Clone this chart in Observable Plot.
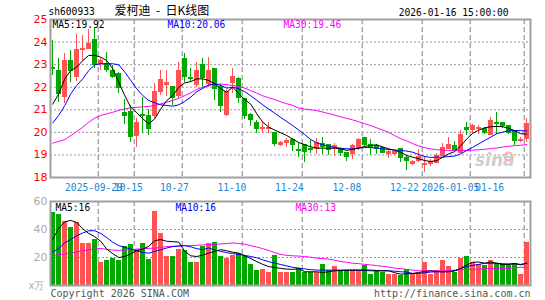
<!DOCTYPE html>
<html><head><meta charset="utf-8">
<script src="https://cdn.jsdelivr.net/npm/d3@7"></script>
<script src="https://cdn.jsdelivr.net/npm/@observablehq/plot@0.6"></script>
<style>
body{margin:0;background:#fff;}
#wrap{position:relative;width:545px;height:300px;overflow:hidden;background:#fff}
#wrap svg{position:absolute;left:0;}
</style></head><body><div id="wrap"></div>
<script>
const code = "sh600933";
const titleName = "爱柯迪";
const titleKind = "日K线图";
const stamp = "2026-01-16 15:00:00";

const dates = [
"2025-09-17","2025-09-18","2025-09-19","2025-09-22","2025-09-23","2025-09-24","2025-09-25","2025-09-26","2025-09-29","2025-09-30",
"2025-10-09","2025-10-10","2025-10-13","2025-10-14","2025-10-15","2025-10-16","2025-10-17","2025-10-20","2025-10-21","2025-10-22",
"2025-10-23","2025-10-24","2025-10-27","2025-10-28","2025-10-29","2025-10-30","2025-10-31","2025-11-03","2025-11-04","2025-11-05",
"2025-11-06","2025-11-07","2025-11-10","2025-11-11","2025-11-12","2025-11-13","2025-11-14","2025-11-17","2025-11-18","2025-11-19",
"2025-11-20","2025-11-21","2025-11-24","2025-11-25","2025-11-26","2025-11-27","2025-11-28","2025-12-01","2025-12-02","2025-12-03",
"2025-12-04","2025-12-05","2025-12-08","2025-12-09","2025-12-10","2025-12-11","2025-12-12","2025-12-15","2025-12-16","2025-12-17",
"2025-12-18","2025-12-19","2025-12-22","2025-12-23","2025-12-24","2025-12-25","2025-12-26","2025-12-29","2025-12-30","2025-12-31",
"2026-01-05","2026-01-06","2026-01-07","2026-01-08","2026-01-09","2026-01-12","2026-01-13","2026-01-14","2026-01-15","2026-01-16"];

const open = [22.86,22.70,21.56,23.18,22.44,23.63,23.68,24.07,23.05,23.04,
22.71,22.57,20.85,20.89,19.84,20.78,20.72,20.72,21.81,22.10,
22.03,21.62,23.26,22.42,22.10,23.00,22.15,22.80,22.00,20.79,
22.20,22.37,21.46,20.79,20.41,20.14,20.14,19.97,19.44,19.55,
19.64,19.22,19.42,19.26,19.27,19.49,19.42,19.30,19.27,19.08,
19.05,19.32,19.76,19.46,19.40,19.30,19.03,19.05,19.27,18.86,
18.58,18.72,18.54,18.58,18.65,18.97,19.27,19.40,19.10,20.18,
20.12,20.14,20.14,19.90,20.41,20.41,20.26,20.04,19.62,19.71];
const high = [24.05,23.26,23.48,23.63,24.35,24.30,24.55,24.60,23.26,23.55,
22.96,22.67,21.45,21.20,20.60,21.56,21.00,22.15,22.74,22.74,
22.05,23.11,23.48,22.84,23.10,23.26,23.33,22.82,22.10,21.90,
22.84,22.45,21.50,20.85,20.53,20.48,20.45,20.00,19.60,19.75,
19.71,19.49,19.45,19.64,19.71,19.79,19.47,19.50,19.30,19.10,
19.45,19.71,19.78,19.67,19.45,19.38,19.22,19.18,19.30,18.98,
18.75,19.23,18.95,18.78,19.05,19.50,19.76,19.60,20.08,20.44,
20.35,20.30,20.20,20.64,20.88,20.45,20.30,20.06,19.78,20.60];
const low = [22.50,21.34,21.27,22.22,22.25,23.15,23.65,22.85,22.74,22.65,
22.37,21.74,20.35,19.56,19.34,19.95,19.86,20.60,21.63,21.60,
21.20,21.50,22.20,22.20,22.00,22.00,22.00,21.40,20.88,20.70,
21.70,21.30,20.57,20.24,19.96,19.96,19.95,19.37,19.38,19.34,
19.15,18.90,18.68,19.05,19.00,19.00,18.97,18.95,18.94,18.71,
18.80,19.20,19.37,18.97,19.00,19.05,18.82,18.98,18.68,18.32,
18.54,18.68,18.20,18.50,18.60,18.92,19.24,19.18,19.08,19.86,
19.95,19.90,19.90,19.88,19.91,20.15,19.90,19.43,19.55,19.56];
const close = [22.82,21.71,23.15,22.74,23.63,23.68,23.93,22.99,23.15,22.78,
22.47,21.97,20.72,19.80,20.43,20.72,20.16,21.81,22.30,22.20,
21.53,22.74,22.45,22.37,22.72,22.40,22.74,21.93,21.18,21.78,
22.44,21.51,20.74,20.53,20.16,20.18,20.18,19.50,19.55,19.60,
19.42,19.19,19.12,19.23,19.54,19.36,19.23,19.39,19.09,18.92,
19.38,19.68,19.42,19.32,19.25,19.08,19.15,19.12,18.86,18.74,
18.68,18.93,18.58,18.70,18.97,19.30,19.42,19.24,19.90,20.12,
20.30,20.18,19.96,20.49,20.36,20.26,19.95,19.61,19.65,20.35];

const ma5 = [21.25,21.71,22.37,22.74,22.89,23.18,23.41,23.41,23.33,23.18,
22.82,22.22,21.63,21.11,20.87,20.60,20.38,20.60,21.04,21.41,
21.63,22.00,22.19,22.25,22.37,22.37,22.30,22.15,21.93,21.78,
22.00,21.71,21.45,21.25,20.82,20.45,20.23,20.10,19.98,19.86,
19.70,19.55,19.45,19.36,19.30,19.30,19.30,19.30,19.27,19.20,
19.25,19.30,19.38,19.42,19.45,19.35,19.27,19.20,19.12,18.97,
18.90,18.83,18.75,18.71,18.75,18.90,19.05,19.15,19.40,19.71,
19.96,20.10,20.20,20.25,20.26,20.25,20.18,20.07,19.94,19.92];
const ma10 = [20.42,20.75,21.19,21.71,22.08,22.37,22.74,22.99,23.04,23.04,
23.04,22.99,22.67,22.30,21.93,21.63,21.41,21.31,21.22,21.19,
21.16,21.22,21.37,21.56,21.80,21.95,22.10,22.15,22.08,21.96,
22.00,21.93,21.80,21.62,21.42,21.22,21.03,20.85,20.66,20.48,
20.30,20.10,19.90,19.68,19.53,19.45,19.39,19.33,19.30,19.27,
19.27,19.30,19.33,19.33,19.30,19.27,19.24,19.22,19.20,19.17,
19.12,19.02,18.93,18.89,18.90,18.90,18.93,18.95,19.05,19.20,
19.34,19.49,19.64,19.79,19.94,20.01,20.07,20.08,20.08,20.06];
const ma30 = [19.52,19.60,19.68,19.86,20.04,20.23,20.45,20.63,20.75,20.82,
20.89,20.97,21.04,21.09,21.11,21.13,21.15,21.19,21.26,21.34,
21.41,21.51,21.63,21.75,21.90,22.00,22.08,22.13,22.14,22.11,
22.08,22.03,21.96,21.85,21.74,21.62,21.53,21.45,21.35,21.27,
21.19,21.08,21.03,21.00,20.96,20.90,20.83,20.76,20.69,20.62,
20.55,20.47,20.38,20.30,20.20,20.10,20.00,19.85,19.72,19.62,
19.50,19.40,19.32,19.27,19.23,19.21,19.20,19.20,19.20,19.20,
19.21,19.23,19.25,19.28,19.31,19.35,19.38,19.41,19.43,19.46];

const volume = [52.2,50.5,45.7,41.3,45.0,30.2,30.2,32.6,16.6,18.1,
19.5,18.1,28.0,29.0,25.6,29.7,18.8,53.0,37.0,20.7,
20.7,26.0,24.8,16.4,16.4,28.0,30.2,30.9,20.7,19.3,
21.5,22.7,20.7,15.1,10.5,11.5,9.1,21.5,9.1,9.1,
9.1,12.2,9.1,9.1,9.1,14.7,10.5,13.5,10.5,10.5,
10.5,10.5,14.2,8.1,10.5,9.1,8.1,8.1,6.9,11.5,
8.1,8.1,16.4,8.1,10.5,17.8,13.5,9.1,19.5,20.7,
16.4,14.7,14.0,17.8,15.9,14.7,14.7,15.9,8.1,30.4];
const volMa5 = [33,41,45.5,46.5,45,40.5,37.2,34.8,31.6,26,
22.7,20,20.7,22.7,24.8,26,28,32,32.8,31.6,
31.3,31,24.4,21.2,20.7,21.7,23.1,24.4,25.6,24.8,
23.8,23.1,21.2,19.2,17.1,15.1,13.5,12.9,12.2,11.7,
11.5,12,9.8,9.8,9.8,9.3,9.8,10.5,10.7,11,
11,11,11,11,10.7,10.5,10.5,9.1,8.1,8.4,
8.6,9.3,10,10.5,10,9.8,9.8,10.5,12.2,14.7,
16.6,16.8,15.9,16.8,15.9,14.9,15.1,15.6,14.7,15.9];
const volMa10 = [24.1,26.3,30.6,32.8,35.6,37.5,39.1,39.1,37.2,34.2,
30.9,28.5,27.3,26,24.8,23.6,23.1,24.4,25.6,26.8,
27.8,28.2,28.5,27.6,26.3,25.6,26.8,25.4,24.4,23.4,
22.8,22.1,21.5,20.7,19.8,18.3,17.0,16.0,15.0,14.0,
13.0,12.4,11.8,11.3,11.0,11.0,11.0,11.0,11.0,11.0,
11.0,11.0,10.7,10.5,10.5,10.5,10.5,10.2,9.8,9.6,
8.6,8.6,9.1,9.6,9.8,9.8,10,10.5,12.2,13.5,
14.4,15.1,15.9,15.9,15.9,15.6,15.4,15.6,15.1,15.9];
const volMa30 = [21.4,22,22.5,23.1,24,24.8,25.5,26,26.5,25.8,
25.3,25.1,25.3,25.6,26,26.3,26.5,26.7,27.2,27.8,
28,28.2,28.4,28.5,28.7,29,29.2,29.4,29.7,30,
30.4,30.0,29.5,28.5,27.5,26.3,25.0,23.5,22.2,21.5,
21.2,21,20.7,20.2,19.5,19.3,18.8,18.1,17.1,16.6,
15.9,15.6,15.1,14.7,14.2,13.7,13.2,12.4,12,11.5,
11,10.5,10.5,10.5,10.5,10.5,10.7,11,11.2,11.5,
11.5,11.7,12,12.2,12.2,12.2,12.2,12.7,13,13];

const tickDates = ["2025-09-29","2025-10-15","2025-10-27","2025-11-10","2025-11-24","2025-12-08","2025-12-22","2026-01-05","2026-01-16"];
const tickLabels = ["2025-09-29","10-15","10-27","11-10","11-24","12-08","12-22","2026-01-05","01-16"];
const priceTicks = [18,19,20,21,22,23,24,25];
const volTicks = [20,40,60];
const volUnit = "x万";
const copyright = "Copyright 2026 SINA.COM";
const site = "http://finance.sina.com.cn";

const RED = "#ff5252", GREEN = "#00a800";
const MONO = "DejaVu Sans Mono", SANS = "DejaVu Sans";
const rows = dates.map((d, i) => ({i, o: open[i], h: high[i], l: low[i], c: close[i], v: volume[i],
  col: close[i] >= open[i] ? RED : GREEN}));
const idx = rows.map(r => r.i);
const ticks = tickDates.map((d, k) => ({i: dates.indexOf(d), label: tickLabels[k]}));
const xDom = [-0.38, 79.62];
const NB = "\u00a0";
const title = `${titleName}${NB}${NB}-${NB}${NB}${titleKind}`;

const wrap = document.getElementById("wrap");

const main = Plot.plot({
  width: 545, height: 200, marginLeft: 50, marginRight: 15, marginTop: 19, marginBottom: 23,
  style: {background: "transparent", fontFamily: MONO, fontSize: "9.6px"},
  x: {type: "linear", domain: xDom, axis: null},
  y: {domain: [18, 25], axis: null},
  color: {type: "identity"},
  marks: [
    Plot.ruleY(priceTicks.slice(1, -1), {stroke: "#9a9a9a", strokeDasharray: "2,2"}),
    Plot.ruleX(ticks, {x: "i", dx: -2.5, stroke: "#aaa", strokeWidth: 1.5, strokeDasharray: "5,3"}),
    Plot.text(["sina"], {text: d => d, frameAnchor: "bottom-right", dx: -16, dy: -12, fontSize: 17, fontStyle: "italic", fontWeight: "bold", fill: "#cfcfcf", fontFamily: SANS}),
    Plot.dot([0], {frameAnchor: "bottom-right", dx: -22, dy: -21, r: 4, stroke: "#f3b5b5", strokeWidth: 2}),
    Plot.ruleX(rows, {x: "i", y1: "l", y2: "h", stroke: "col", strokeWidth: 1, shapeRendering: "crispEdges"}),
    Plot.rect(rows, {x1: d => d.i - 0.34, x2: d => d.i + 0.34, y1: d => Math.min(d.o, d.c), y2: d => Math.max(d.o, d.c),
      fill: "col", stroke: "col", strokeWidth: 1, shapeRendering: "crispEdges"}),
    Plot.line(idx, {x: d => d, y: d => ma30[d], stroke: "#ff00ff", strokeWidth: 1}),
    Plot.line(idx, {x: d => d, y: d => ma10[d], stroke: "#0000ff", strokeWidth: 1}),
    Plot.line(idx, {x: d => d, y: d => ma5[d], stroke: "#000", strokeWidth: 1}),
    Plot.frame({stroke: "#a0a0a0", strokeWidth: 2}),
    Plot.text(priceTicks, {y: d => d, text: d => String(d), frameAnchor: "left", textAnchor: "end", dx: -3, fill: "#f00", fontSize: 11, fontFamily: SANS}),
    Plot.text(ticks, {x: d => Math.min(d.i * 0.958 - 0.8, 72.8), text: "label", frameAnchor: "bottom", lineAnchor: "middle", dy: 10, fill: "#1a86d4"}),
    Plot.text([`MA5:${ma5[ma5.length - 1].toFixed(2)}`], {text: d => d, frameAnchor: "top-left", textAnchor: "start", lineAnchor: "middle", dx: 2, dy: 5, fill: "#000"}),
    Plot.text([`MA10:${ma10[ma10.length - 1].toFixed(2)}`], {text: d => d, frameAnchor: "top-left", textAnchor: "start", lineAnchor: "middle", dx: 117, dy: 5, fill: "#0000ff"}),
    Plot.text([`MA30:${ma30[ma30.length - 1].toFixed(2)}`], {text: d => d, frameAnchor: "top-left", textAnchor: "start", lineAnchor: "middle", dx: 233, dy: 5, fill: "#ff00ff"}),
    Plot.text([code], {text: d => d, frameAnchor: "top-left", textAnchor: "start", lineAnchor: "middle", dx: -2, dy: -8, fill: "#000"}),
    Plot.text([title], {text: d => d, frameAnchor: "top-left", textAnchor: "start", lineAnchor: "middle", dx: 64, dy: -8, fill: "#000", fontSize: 12, fontFamily: "Noto Sans CJK SC"}),
    Plot.text([stamp], {text: d => d, frameAnchor: "top-right", textAnchor: "end", lineAnchor: "middle", dx: -22, dy: -7, fill: "#000"})
  ]
});
main.style.top = "0px";
wrap.appendChild(main);

const vol = Plot.plot({
  width: 545, height: 110, marginLeft: 50, marginRight: 15, marginTop: 11, marginBottom: 15,
  style: {background: "transparent", fontFamily: MONO, fontSize: "9.6px"},
  x: {type: "linear", domain: xDom, axis: null},
  y: {domain: [0, 60], axis: null},
  color: {type: "identity"},
  marks: [
    Plot.ruleY(volTicks.slice(0, -1), {stroke: "#9a9a9a", strokeDasharray: "2,2"}),
    Plot.ruleX(ticks, {x: "i", dx: -2.5, stroke: "#aaa", strokeWidth: 1.5, strokeDasharray: "5,3"}),
    Plot.rect(rows, {x1: d => d.i - 0.42, x2: d => d.i + 0.42, y1: 0, y2: "v", fill: "col", shapeRendering: "crispEdges"}),
    Plot.line(idx, {x: d => d, y: d => volMa30[d], stroke: "#ff00ff", strokeWidth: 1}),
    Plot.line(idx, {x: d => d, y: d => volMa10[d], stroke: "#0000ff", strokeWidth: 1}),
    Plot.line(idx, {x: d => d, y: d => volMa5[d], stroke: "#000", strokeWidth: 1}),
    Plot.frame({stroke: "#a0a0a0", strokeWidth: 2}),
    Plot.text(volTicks, {y: d => d, text: d => String(d), frameAnchor: "left", textAnchor: "end", dx: -3, fill: "#aaa", fontSize: 11, fontFamily: SANS}),
    Plot.text([volUnit], {text: d => d, frameAnchor: "bottom-left", textAnchor: "end", lineAnchor: "middle", dx: -6, dy: 0, fill: "#aaa", fontSize: 10, fontFamily: SANS}),
    Plot.text([`MA5:${volMa5[volMa5.length - 1].toFixed(0)}`], {text: d => d, frameAnchor: "top-left", textAnchor: "start", lineAnchor: "middle", dx: 5, dy: 6, fill: "#000"}),
    Plot.text([`MA10:${volMa10[volMa10.length - 1].toFixed(0)}`], {text: d => d, frameAnchor: "top-left", textAnchor: "start", lineAnchor: "middle", dx: 125, dy: 6, fill: "#0000ff"}),
    Plot.text([`MA30:${volMa30[volMa30.length - 1].toFixed(0)}`], {text: d => d, frameAnchor: "top-left", textAnchor: "start", lineAnchor: "middle", dx: 245, dy: 6, fill: "#ff00ff"}),
    Plot.text([copyright], {text: d => d, frameAnchor: "bottom-left", textAnchor: "start", lineAnchor: "middle", dx: 0, dy: 8, fill: "#555", fontSize: 10}),
    Plot.text([site], {text: d => d, frameAnchor: "bottom-right", textAnchor: "end", lineAnchor: "middle", dx: 0, dy: 8, fill: "#555", fontSize: 10})
  ]
});
vol.style.top = "190px";
wrap.appendChild(vol);
</script>
</body></html>
